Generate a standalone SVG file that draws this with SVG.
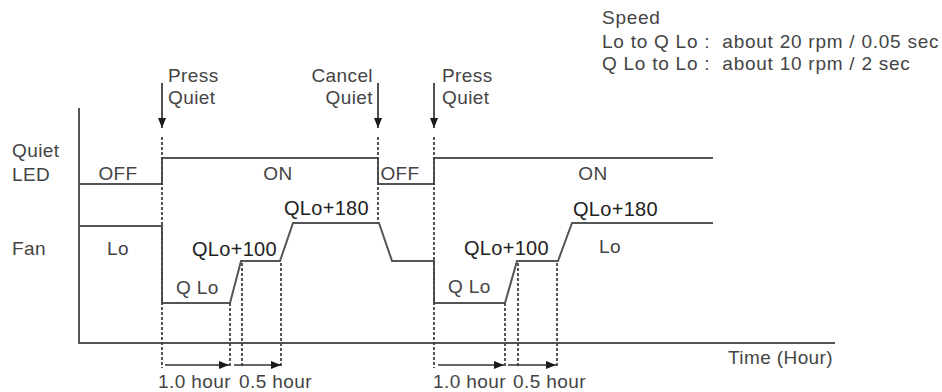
<svg xmlns="http://www.w3.org/2000/svg" width="942" height="392" viewBox="0 0 942 392">
<style>
.t{font-family:"Liberation Sans",Arial,sans-serif;font-size:19px;fill:#444;letter-spacing:0.4px}
.lg{font-family:"Liberation Sans",Arial,sans-serif;font-size:19px;fill:#444;letter-spacing:0.75px;white-space:pre}
.q{font-family:"Liberation Sans",Arial,sans-serif;font-size:20px;fill:#222;letter-spacing:0.3px}
.ln{fill:none;stroke:#555;stroke-width:2}
.ds{fill:none;stroke:#444;stroke-width:1.8;stroke-dasharray:3 2}
.ar{fill:none;stroke:#333;stroke-width:1.7}
</style>
<defs>
<marker id="ah" viewBox="0 0 10 8" refX="10" refY="4" markerWidth="10" markerHeight="8" markerUnits="userSpaceOnUse" orient="auto">
<path d="M0,0 L10,4 L0,8 Z" fill="#1a1a1a"/>
</marker>
</defs>
<rect width="942" height="392" fill="#fff"/>

<g id="legend">
<text class="lg" x="602" y="24">Speed</text>
<text class="lg" x="602" y="48" xml:space="preserve">Lo to Q Lo :  about 20 rpm / 0.05 sec</text>
<text class="lg" x="602" y="70" xml:space="preserve">Q Lo to Lo :  about 10 rpm / 2 sec</text>
</g>

<g id="axes">
<path class="ln" d="M79,108 V343 H835"/>
<text class="t" x="728" y="364">Time (Hour)</text>
<text class="t" x="12" y="157">Quiet</text>
<text class="t" x="12" y="181">LED</text>
<text class="t" x="12" y="255">Fan</text>
</g>

<g id="led-signal">
<path class="ln" d="M79,184 H162 V158 H378 V184 H434 V158 H713"/>
<text class="t" x="118" y="180" text-anchor="middle">OFF</text>
<text class="t" x="278" y="180" text-anchor="middle">ON</text>
<text class="t" x="400" y="180" text-anchor="middle">OFF</text>
<text class="t" x="593" y="180" text-anchor="middle">ON</text>
</g>

<g id="fan-signal">
<path class="ln" d="M79,226 H162 V303 H230 L241,261 H280 L293,223 H379 L392,261 H434 V303 H505 L517,261 H558 L572,223 H713"/>
<text class="t" x="118" y="255" text-anchor="middle">Lo</text>
<text class="t" x="176" y="294">Q Lo</text>
<text class="q" x="192" y="256">QLo+100</text>
<text class="q" x="284" y="215">QLo+180</text>
<text class="t" x="448" y="293">Q Lo</text>
<text class="q" x="464" y="255">QLo+100</text>
<text class="q" x="573" y="216">QLo+180</text>
<text class="t" x="610" y="253" text-anchor="middle">Lo</text>
</g>

<g id="events">
<line class="ar" x1="162" y1="83" x2="162" y2="128" marker-end="url(#ah)"/>
<text class="t" x="168" y="82">Press</text>
<text class="t" x="168" y="104">Quiet</text>
<line class="ar" x1="378" y1="83" x2="378" y2="128" marker-end="url(#ah)"/>
<text class="t" x="373" y="82" text-anchor="end">Cancel</text>
<text class="t" x="373" y="104" text-anchor="end">Quiet</text>
<line class="ar" x1="434" y1="83" x2="434" y2="128" marker-end="url(#ah)"/>
<text class="t" x="442" y="82">Press</text>
<text class="t" x="442" y="104">Quiet</text>
</g>

<g id="connectors">
<line class="ds" x1="162" y1="137" x2="162" y2="368"/>
<line class="ds" x1="378" y1="137" x2="378" y2="223"/>
<line class="ds" x1="434" y1="137" x2="434" y2="368"/>
<line class="ds" x1="230" y1="303" x2="230" y2="368"/>
<line class="ds" x1="242" y1="263" x2="242" y2="368"/>
<line class="ds" x1="281" y1="263" x2="281" y2="368"/>
<line class="ds" x1="505" y1="303" x2="505" y2="368"/>
<line class="ds" x1="518" y1="263" x2="518" y2="368"/>
<line class="ds" x1="557" y1="263" x2="557" y2="368"/>
<line class="ar" x1="165" y1="365" x2="229" y2="365" marker-end="url(#ah)"/>
<line class="ar" x1="234" y1="365" x2="281" y2="365" marker-end="url(#ah)"/>
<line class="ar" x1="438" y1="365" x2="504" y2="365" marker-end="url(#ah)"/>
<line class="ar" x1="508" y1="365" x2="556" y2="365" marker-end="url(#ah)"/>
<text class="t" x="158" y="388">1.0 hour</text>
<text class="t" x="239" y="388">0.5 hour</text>
<text class="t" x="433" y="388">1.0 hour</text>
<text class="t" x="513" y="388">0.5 hour</text>
</g>
</svg>
